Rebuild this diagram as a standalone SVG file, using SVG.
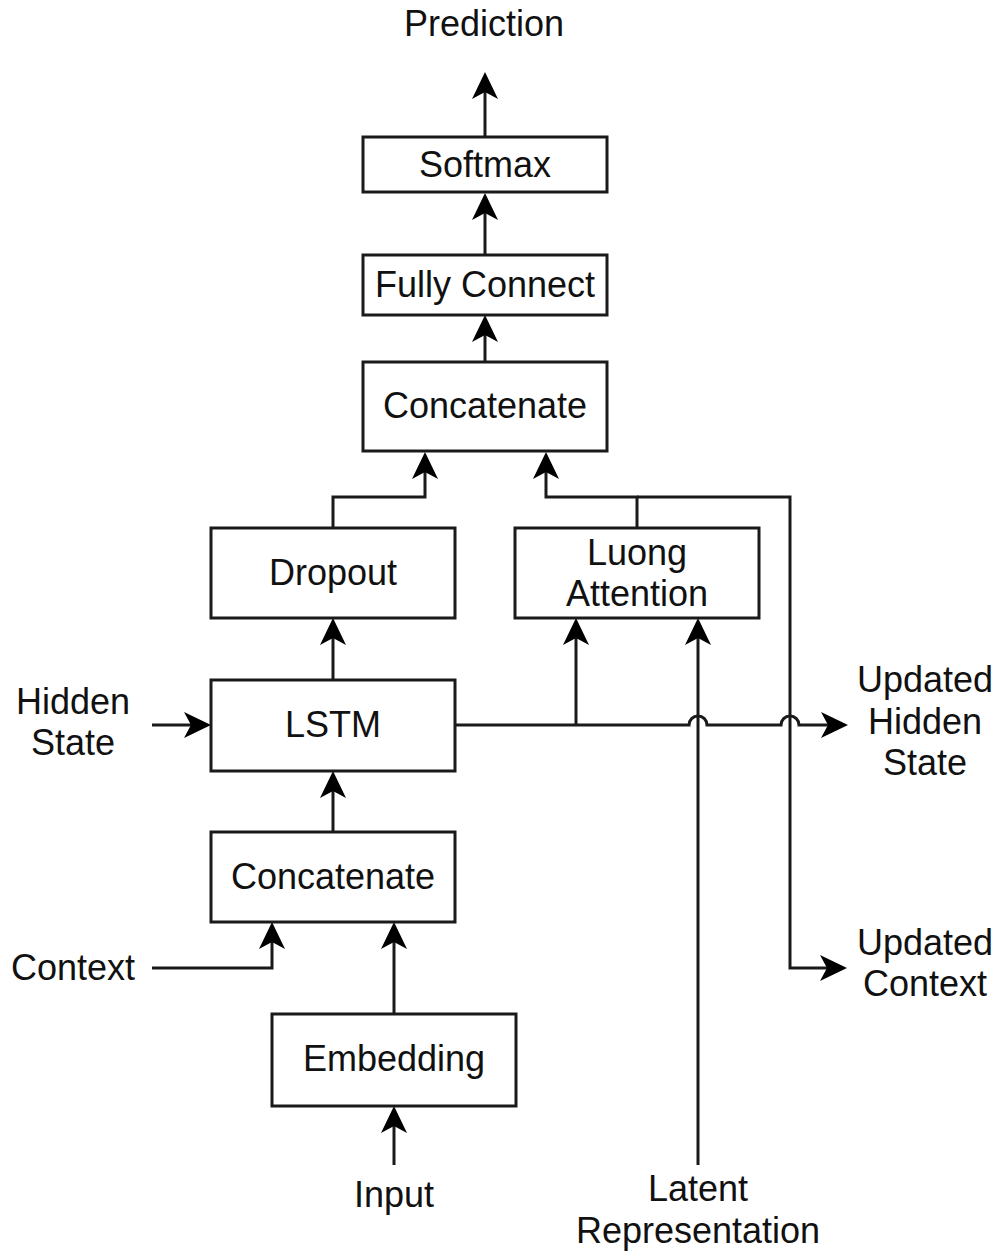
<svg xmlns="http://www.w3.org/2000/svg" width="998" height="1254" viewBox="0 0 998 1254">
<defs>
<style>
.box{fill:#fff;stroke:#1a1a1a;stroke-width:3}
.ln{fill:none;stroke:#1a1a1a;stroke-width:3;marker-end:url(#arr)}
.ln2{fill:none;stroke:#1a1a1a;stroke-width:3}
text{font-family:"Liberation Sans",Arial,sans-serif;font-size:36px;fill:#111;text-anchor:middle}
</style>
<marker id="arr" markerUnits="userSpaceOnUse" markerWidth="30" markerHeight="30" refX="7" refY="13" orient="auto">
<path d="M27 13 L0 0 L7 13 L0 26 Z" fill="#000"/>
</marker>
</defs>
<rect width="998" height="1254" fill="#fff"/>
<g id="connectors">
<path class="ln" d="M485 137 V92"/>
<path class="ln" d="M485 255 V213"/>
<path class="ln" d="M485 362 V335"/>
<path class="ln" d="M333 528 V497 H425 V472"/>
<path class="ln" d="M637 528 V497 H546 V472"/>
<path class="ln" d="M637 497 H790 V968 H827"/>
<path class="ln" d="M455 725 H689 A9 9 0 0 1 707 725 H781 A9 9 0 0 1 799 725 H828"/>
<path class="ln" d="M576 725 V638"/>
<path class="ln" d="M698 1165 V638"/>
<path class="ln" d="M333 680 V638"/>
<path class="ln" d="M152 725 H191"/>
<path class="ln" d="M333 832 V791"/>
<path class="ln" d="M152 968 H272 V942"/>
<path class="ln" d="M394 1014 V942"/>
<path class="ln" d="M394 1165 V1126"/>
</g>
<g id="softmax"><rect class="box" x="363" y="137" width="244" height="55"/><text x="485" y="177">Softmax</text></g>
<g id="fully-connect"><rect class="box" x="363" y="255" width="244" height="60"/><text x="485" y="297">Fully Connect</text></g>
<g id="concatenate-top"><rect class="box" x="363" y="362" width="244" height="89"/><text x="485" y="418">Concatenate</text></g>
<g id="dropout"><rect class="box" x="211" y="528" width="244" height="90"/><text x="333" y="585">Dropout</text></g>
<g id="luong-attention"><rect class="box" x="515" y="528" width="244" height="90"/><text x="637" y="565">Luong</text><text x="637" y="606">Attention</text></g>
<g id="lstm"><rect class="box" x="211" y="680" width="244" height="91"/><text x="333" y="737">LSTM</text></g>
<g id="concatenate-bottom"><rect class="box" x="211" y="832" width="244" height="90"/><text x="333" y="889">Concatenate</text></g>
<g id="embedding"><rect class="box" x="272" y="1014" width="244" height="92"/><text x="394" y="1071">Embedding</text></g>
<g id="prediction"><text x="484" y="36">Prediction</text></g>
<g id="hidden-state"><text x="73" y="714">Hidden</text><text x="73" y="755">State</text></g>
<g id="context"><text x="73" y="980">Context</text></g>
<g id="updated-hidden-state"><text x="925" y="692">Updated</text><text x="925" y="734">Hidden</text><text x="925" y="775">State</text></g>
<g id="updated-context"><text x="925" y="955">Updated</text><text x="925" y="996">Context</text></g>
<g id="input"><text x="394" y="1207">Input</text></g>
<g id="latent-representation"><text x="698" y="1201">Latent</text><text x="698" y="1243">Representation</text></g>
</svg>
